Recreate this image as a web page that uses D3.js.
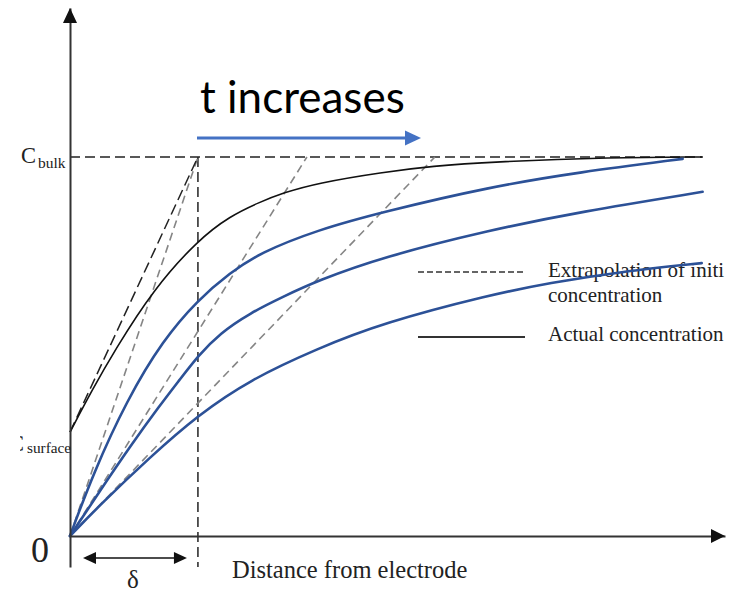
<!DOCTYPE html>
<html>
<head>
<meta charset="utf-8">
<script src="https://cdn.jsdelivr.net/npm/d3@7"></script>
<style>
  body { margin: 0; background: #fff; }
  svg { display: block; }
</style>
</head>
<body>
<svg id="chart" width="740" height="593"></svg>
<script>
// Concentration profiles near an electrode.
// Distance is in units of the diffusion layer thickness δ,
// concentration is relative to C_bulk.
const cBulk = 1;
const cSurface = 0.274;
const delta = 1;

// actual concentration (black)
const actualX = [0, 0.172, 0.352, 0.648, 1.0, 1.25, 1.484, 1.664, 1.93, 2.445, 2.836, 3.281, 4.242, 4.945];
const actualC = [0.274, 0.385, 0.491, 0.649, 0.781, 0.844, 0.881, 0.905, 0.931, 0.960, 0.976, 0.987, 0.999, 1.0];

// profiles at increasing times (blue)
const t1X = [0, 0.18, 0.445, 0.727, 1.0, 1.25, 1.484, 1.93, 2.445, 3.281, 3.984, 4.789];
const t1C = [0, 0.164, 0.359, 0.517, 0.623, 0.694, 0.747, 0.807, 0.855, 0.921, 0.960, 0.995];
const t2X = [0, 0.234, 0.469, 0.703, 0.859, 1.0, 1.172, 1.406, 1.664, 1.93, 2.445, 3.281, 3.984, 4.945];
const t2C = [0, 0.119, 0.236, 0.345, 0.413, 0.475, 0.535, 0.588, 0.631, 0.673, 0.736, 0.807, 0.855, 0.908];
const t3X = [0, 0.234, 0.625, 1.0, 1.406, 1.93, 2.445, 3.281, 3.75, 4.297, 4.938];
const t3C = [0, 0.082, 0.208, 0.319, 0.412, 0.494, 0.562, 0.636, 0.668, 0.697, 0.720];

// distances where the initial-slope extrapolations reach C_bulk
const extrapolationEnds = [1.0, 1.852, 2.852];

// axis extents
const xMax = 5.12;
const yMax = 1.393;
const bulkLineEnd = 4.945;

const svg = d3.select("#chart");
const x = d3.scaleLinear().domain([0, xMax]).range([70, 725]);
const y = d3.scaleLinear().domain([0, yMax]).range([536, 8]);

const serif = "'Liberation Serif', 'Times New Roman', serif";
const ink = "#222";
const blue = "#2c5197";

const line = d3.line()
  .x(d => x(d[0]))
  .y(d => y(d[1]))
  .curve(d3.curveBasis);
const straight = d3.line().x(d => x(d[0])).y(d => y(d[1]));

// below-axis extension of the vertical guides (px)
const below = 31;

// C_bulk guide
svg.append("path")
  .attr("d", straight([[0, cBulk], [bulkLineEnd, cBulk]]))
  .attr("fill", "none").attr("stroke", ink)
  .attr("stroke-width", 1.5).attr("stroke-dasharray", "10,5");

// δ guide
svg.append("line")
  .attr("x1", x(delta)).attr("x2", x(delta))
  .attr("y1", y(cBulk)).attr("y2", y(0) + below)
  .attr("stroke", ink).attr("stroke-width", 1.5).attr("stroke-dasharray", "10,5");

// extrapolation of the initial slopes (grey)
extrapolationEnds.forEach(e => {
  svg.append("path")
    .attr("d", straight([[0, 0], [e, cBulk]]))
    .attr("fill", "none").attr("stroke", "#858585")
    .attr("stroke-width", 1.6).attr("stroke-dasharray", "8,5");
});

// extrapolation of the actual profile (black)
svg.append("path")
  .attr("d", straight([[0, cSurface], [delta, cBulk]]))
  .attr("fill", "none").attr("stroke", ink)
  .attr("stroke-width", 1.5).attr("stroke-dasharray", "11,5");

// legend
const lg = svg.append("g");
lg.append("line").attr("x1", 418).attr("x2", 523).attr("y1", 272).attr("y2", 272)
  .attr("stroke", "#333").attr("stroke-width", 1.4).attr("stroke-dasharray", "6,3");
lg.append("line").attr("x1", 418).attr("x2", 525).attr("y1", 337).attr("y2", 337)
  .attr("stroke", "#333").attr("stroke-width", 2);
lg.append("text").attr("x", 548).attr("y", 277).text("Extrapolation of initi");
lg.append("text").attr("x", 548).attr("y", 302).text("concentration");
lg.append("text").attr("x", 548).attr("y", 341).text("Actual concentration");
lg.selectAll("text").attr("font-family", serif).attr("font-size", 21).attr("fill", ink);

// actual concentration profile
svg.append("path")
  .attr("d", line(actualX.map((v, i) => [v, actualC[i]])))
  .attr("fill", "none").attr("stroke", "#111").attr("stroke-width", 1.6);

// profiles at increasing time
[[t1X, t1C], [t2X, t2C], [t3X, t3C]].forEach(([xs, cs]) => {
  svg.append("path")
    .attr("d", line(xs.map((v, i) => [v, cs[i]])))
    .attr("fill", "none").attr("stroke", blue).attr("stroke-width", 2.6)
    .attr("stroke-linecap", "round");
});

// axes (no ticks, arrow-headed)
const xAxis = svg.append("g")
  .attr("transform", `translate(0,${y(0)})`)
  .call(d3.axisBottom(x).tickValues([]).tickSizeOuter(0));
const yExt = d3.scaleLinear().domain([y.invert(y(0) + below), yMax])
  .range([y(0) + below, y(yMax)]);
const yAxis = svg.append("g")
  .attr("transform", `translate(${x(0)},0)`)
  .call(d3.axisLeft(yExt).tickValues([]).tickSizeOuter(0));
[xAxis, yAxis].forEach(g => g.select(".domain").attr("stroke", "#333").attr("stroke-width", 2));

svg.append("path")
  .attr("d", `M${x(xMax)},${y(0)} l-14,-7 l0,14 Z`).attr("fill", "#111");
svg.append("path")
  .attr("d", `M${x(0)},${y(yMax)} l-7,15 l14,0 Z`).attr("fill", "#111");

// δ double arrow
const ay = y(0) + 22;
const ax0 = x(0) + 13, ax1 = x(delta) - 11;
svg.append("line").attr("x1", ax0 + 8).attr("x2", ax1 - 8).attr("y1", ay).attr("y2", ay)
  .attr("stroke", "#111").attr("stroke-width", 1.6);
svg.append("path").attr("d", `M${ax0},${ay} l13,-6 l0,12 Z`).attr("fill", "#111");
svg.append("path").attr("d", `M${ax1},${ay} l-13,-6 l0,12 Z`).attr("fill", "#111");

// axis texts
const t = (px, py, s, size, anchor) => svg.append("text")
  .attr("x", px).attr("y", py).attr("font-family", serif)
  .attr("font-size", size).attr("fill", ink)
  .attr("text-anchor", anchor || "start").text(s);

t(133, 588, "δ", 25, "middle");
t(232, 578, "Distance from electrode", 24.5);
t(31, 562, "0", 36);
t(21, 163, "C", 22.5);
t(38, 168, "bulk", 15.5);

// C_surface label, its left edge cut by the page
svg.append("clipPath").attr("id", "lblclip")
  .append("rect").attr("x", 20).attr("y", 420).attr("width", 60).attr("height", 50);
const cs = svg.append("g").attr("clip-path", "url(#lblclip)");
cs.append("text").attr("x", 9).attr("y", 451).attr("font-family", serif)
  .attr("font-size", 22.5).attr("fill", ink).text("C");
cs.append("text").attr("x", 27).attr("y", 453).attr("font-family", serif)
  .attr("font-size", 15.3).attr("fill", ink).text("surface");

// time arrow
svg.append("text").attr("x", 200).attr("y", 113)
  .attr("font-family", "Lato, 'Open Sans', sans-serif")
  .attr("font-size", 44).attr("fill", "#000").text("t increases");
svg.append("line").attr("x1", 197).attr("x2", 408).attr("y1", 138).attr("y2", 138)
  .attr("stroke", "#4472c4").attr("stroke-width", 3);
svg.append("path").attr("d", "M421,138 l-16,-7.5 l0,15 Z").attr("fill", "#4472c4");
</script>
</body>
</html>
